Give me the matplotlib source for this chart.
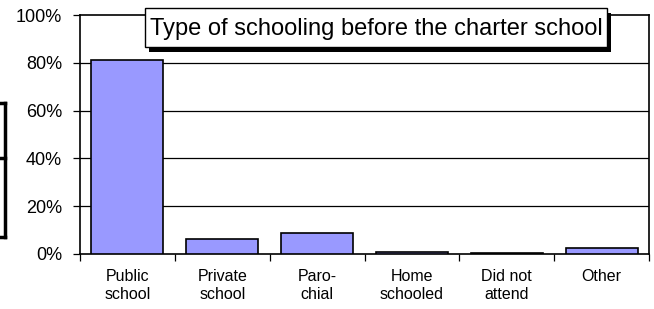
import matplotlib
matplotlib.use('Agg')
import matplotlib.pyplot as plt
from matplotlib.patches import Rectangle
from matplotlib.lines import Line2D

categories = ['Public\nschool', 'Private\nschool', 'Paro-\nchial', 'Home\nschooled',
              'Did not\nattend', 'Other']
shares = [81.3, 6.2, 8.6, 0.8, 0.3, 2.5]
y_ticks = [0, 20, 40, 60, 80, 100]
title = 'Type of schooling before the charter school'

plt.rcParams['font.family'] = ['Liberation Sans', 'DejaVu Sans']

W, H = 654, 309
fig = plt.figure(figsize=(W / 100, H / 100), dpi=100)
ax = fig.add_axes([80 / W, 1 - 254 / H, 569 / W, 239 / H])

x = range(len(categories))
ax.bar(x, shares, width=0.76, color='#9999FF', edgecolor='black', linewidth=1.2, zorder=3)

ax.set_xlim(-0.5, len(categories) - 0.5)
ax.set_ylim(0, 100)
ax.set_yticks(y_ticks)
ax.set_yticklabels([f'{v}%' for v in y_ticks], fontsize=13)
for v in y_ticks[1:-1]:
    ax.axhline(v, color='black', linewidth=0.9, zorder=1)

# category labels between boundary ticks
ax.set_xticks([i + 0.5 for i in range(-1, len(categories))])
ax.set_xticklabels([])
ax.set_xticks(list(x), minor=True)
ax.set_xticklabels(categories, minor=True, fontsize=11.5, linespacing=1.2)
ax.tick_params(axis='x', which='minor', length=0, pad=11)
ax.tick_params(axis='x', which='major', length=5, width=0.9, direction='out')
ax.tick_params(axis='y', length=5, width=0.9, direction='out', pad=8)

for s in ax.spines.values():
    s.set_linewidth(1.2)
    s.set_color('black')

# title box with shadow
bx, by, bw, bh = 145, 8, 462, 39
fig.patches.append(Rectangle(((bx + 4) / W, 1 - (by + bh + 5) / H), bw / W, bh / H,
                             transform=fig.transFigure, facecolor='black', zorder=5))
fig.patches.append(Rectangle((bx / W, 1 - (by + bh) / H), bw / W, bh / H,
                             transform=fig.transFigure, facecolor='white',
                             edgecolor='black', linewidth=1, zorder=6))
fig.text(376.5 / W, 1 - 35 / H, title, ha='center', va='baseline',
         fontsize=17, zorder=7)

# clipped box at left edge
for seg in [([0, 5], [103, 103]), ([5, 5], [103, 237]), ([0, 5], [237, 237]),
            ([0, 5], [158, 158])]:
    fig.add_artist(Line2D([p / W for p in seg[0]], [1 - p / H for p in seg[1]],
                          color='black', linewidth=2.5, transform=fig.transFigure))

fig.savefig('out.png', dpi=100)
